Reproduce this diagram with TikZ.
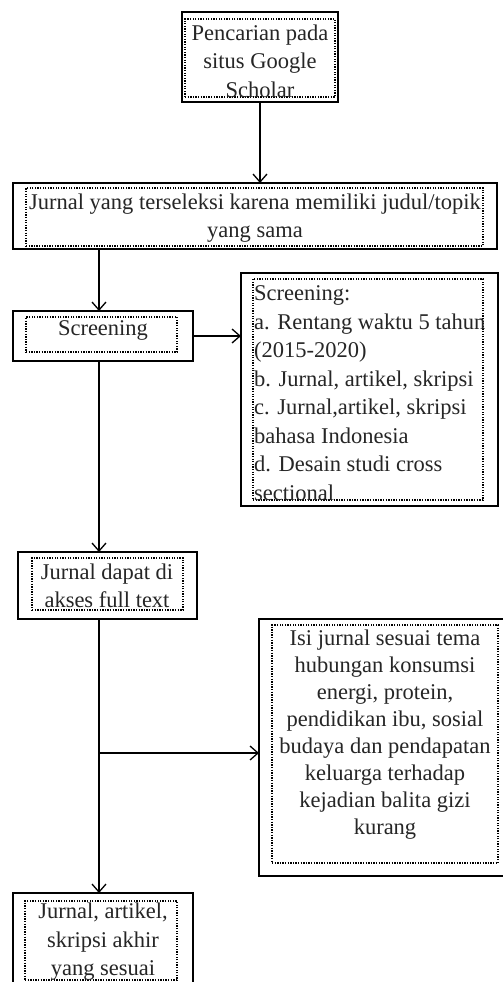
\documentclass[tikz,border=0pt]{standalone}
\usepackage{fontspec}
\setmainfont{Liberation Serif}
\usetikzlibrary{arrows.meta}
\begin{document}
\begin{tikzpicture}[x=1pt,y=-1pt,
  outerbox/.style={draw, line width=1.8pt, rectangle, inner sep=0pt, outer sep=0pt, anchor=north west},
  innerbox/.style={draw, line width=1.3pt, dash pattern=on 1.3pt off 1.3pt, rectangle, inner sep=0pt, outer sep=0pt, anchor=north west},
  txt/.style={font=\fontsize{22.5}{28.5}\selectfont, align=center, inner sep=0pt, text=black!85},
  arr/.style={line width=1.3pt, -{Straight Barb[length=8pt,width=14pt]}},
  ln/.style={line width=1.3pt}]
\useasboundingbox (0,0) rectangle (503,982);
\clip (0,0) rectangle (503,982);
\fill[white] (0,0) rectangle (503,982);

% box 1
\node[outerbox, minimum width=156pt, minimum height=90pt] (b1) at (182,12) {};
\node[innerbox, minimum width=150pt, minimum height=78pt] (i1) at (185,19) {};
\node[txt] (t1) at (260,61) {Pencarian pada\\situs Google\\Scholar};

% box 2
\node[outerbox, minimum width=484pt, minimum height=66pt] (b2) at (13,183) {};
\node[innerbox, minimum width=457pt, minimum height=58pt] (i2) at (26,188) {};
\node[txt] (t2) at (255,218) {Jurnal yang terseleksi karena memiliki judul/topik\\yang sama};

% box 3
\node[outerbox, minimum width=180pt, minimum height=50pt] (b3) at (13,311) {};
\node[innerbox, minimum width=151pt, minimum height=35pt] (i3) at (26,317) {};
\node[txt] (t3) at (103,330) {Screening};

% box 4
\node[outerbox, minimum width=257pt, minimum height=233pt] (b4) at (241,273) {};
\node[innerbox, minimum width=230pt, minimum height=221pt] (i4) at (253,279) {};
\node[txt, align=left, anchor=west] (t4) at (254,393) {Screening:\\a. Rentang waktu 5 tahun\\(2015-2020)\\b. Jurnal, artikel, skripsi\\c. Jurnal,artikel, skripsi\\bahasa Indonesia\\d. Desain studi cross\\sectional};

% box 5
\node[outerbox, minimum width=179pt, minimum height=67pt] (b5) at (18,552) {};
\node[innerbox, minimum width=151pt, minimum height=52pt] (i5) at (32,558) {};
\node[txt] (t5) at (107,586) {Jurnal dapat di\\akses full text};

% box 6
\node[outerbox, minimum width=250pt, minimum height=257pt] (b6) at (259,619) {};
\node[innerbox, minimum width=226pt, minimum height=238pt] (i6) at (272,625) {};
\node[txt, font=\fontsize{22.5}{27}\selectfont] (t6) at (385,735) {Isi jurnal sesuai tema\\hubungan konsumsi\\energi, protein,\\pendidikan ibu, sosial\\budaya dan pendapatan\\keluarga terhadap\\kejadian balita gizi\\kurang};

% box 7
\node[outerbox, minimum width=180pt, minimum height=100pt] (b7) at (13,893) {};
\node[innerbox, minimum width=152pt, minimum height=79pt] (i7) at (25,901) {};
\node[txt] (t7) at (103,942) {Jurnal, artikel,\\skripsi akhir\\yang sesuai};

% connectors
\coordinate (c1) at (99,0);
\coordinate (br) at (99,753);
\draw[arr] (b1.south) -- (b1.south |- b2.north);
\draw[arr] (c1 |- b2.south) -- (c1 |- b3.north);
\draw[arr] (b3.east) -- (b3.east -| b4.west);
\draw[arr] (c1 |- b3.south) -- (c1 |- b5.north);
\draw[arr] (c1 |- b5.south) -- (c1 |- b7.north);
\draw[arr] (br) -- (br -| b6.west);
\end{tikzpicture}
\end{document}
